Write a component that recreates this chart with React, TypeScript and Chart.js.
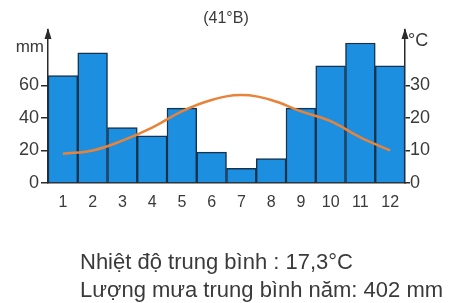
import { useEffect, useRef } from "react";
import { Chart, registerables } from "chart.js";

Chart.register(...registerables);

const months = ["1", "2", "3", "4", "5", "6", "7", "8", "9", "10", "11", "12"];
const rainfall = [66, 80, 34, 29, 46, 19, 9, 15, 46, 72, 86, 72];
const temperature = [9, 10, 13, 17, 22, 25.5, 27, 25.5, 22, 19, 14, 10];
const rainTicks = [0, 20, 40, 60];
const tempTicks = [0, 10, 20, 30];
const title = "(41°B)";
const rainUnit = "mm";
const tempUnit = "°C";
const noteLines = ["Nhiệt độ trung bình : 17,3°C", "Lượng mưa trung bình năm: 402 mm"];

const FONT = "'Liberation Sans', Arial, sans-serif";
const AXIS = "#2b2b2b";
const TEXT = "#3a3a3a";

const decorPlugin = {
  id: "decor",
  afterDraw(chart: any) {
    const { ctx, chartArea } = chart;
    const { left, right, top } = chartArea;
    ctx.save();
    // arrows on the two vertical axes
    ctx.fillStyle = AXIS;
    ctx.strokeStyle = AXIS;
    ctx.lineWidth = 1.5;
    [left, right].forEach((x: number) => {
      ctx.beginPath();
      ctx.moveTo(x, top + 2);
      ctx.lineTo(x, top);
      ctx.stroke();
      ctx.beginPath();
      ctx.moveTo(x, top - 2);
      ctx.lineTo(x - 3.5, top + 9);
      ctx.lineTo(x + 3.5, top + 9);
      ctx.closePath();
      ctx.fill();
    });
    ctx.fillStyle = TEXT;
    ctx.textBaseline = "middle";
    ctx.font = `16px ${FONT}`;
    ctx.textAlign = "center";
    ctx.fillText(title, 226, 19);
    ctx.textAlign = "right";
    ctx.font = `17px ${FONT}`;
    ctx.fillText(rainUnit, left - 4, 47);
    ctx.textAlign = "left";
    ctx.font = `18px ${FONT}`;
    ctx.fillText(tempUnit, right + 3, 41);
    ctx.textBaseline = "alphabetic";
    ctx.font = `22px ${FONT}`;
    ctx.fillText(noteLines[0], 80, 269);
    ctx.fillText(noteLines[1], 80, 297);
    ctx.restore();
  },
};

export default function App() {
  const ref = useRef<HTMLCanvasElement>(null);
  useEffect(() => {
    if (!ref.current) return;
    const chart = new Chart(ref.current, {
      type: "bar",
      data: {
        labels: months,
        datasets: [
          {
            type: "line",
            label: "Nhiệt độ",
            data: temperature,
            yAxisID: "y2",
            borderColor: "#e8833a",
            borderWidth: 2.5,
            tension: 0.4,
            pointRadius: 0,
            fill: false,
            order: 0,
          } as any,
          {
            type: "bar",
            label: "Lượng mưa",
            data: rainfall,
            yAxisID: "y",
            backgroundColor: "#1d8fe0",
            borderColor: "#17324d",
            borderWidth: 1.5,
            barPercentage: 1,
            categoryPercentage: 1,
            order: 1,
          },
        ],
      },
      options: {
        responsive: false,
        animation: false,
        layout: { padding: { top: 30, left: 0, right: 0, bottom: 0 } },
        plugins: { legend: { display: false }, tooltip: { enabled: false } },
        scales: {
          x: {
            grid: { display: false, drawTicks: false },
            border: { display: true, color: AXIS, width: 1.5 },
            ticks: { color: TEXT, font: { size: 16, family: FONT }, padding: 10, maxRotation: 0 },
            afterFit: (s: any) => {
              s.height = 120;
            },
          },
          y: {
            position: "left",
            min: 0,
            max: 94,
            afterBuildTicks: (s: any) => {
              s.ticks = rainTicks.map((v) => ({ value: v }));
            },
            afterFit: (s: any) => {
              s.width = 48;
            },
            grid: { drawOnChartArea: false, drawTicks: true, tickLength: 7, color: AXIS, lineWidth: 1.5 },
            border: { display: true, color: AXIS, width: 1.5 },
            ticks: { color: TEXT, font: { size: 18, family: FONT }, padding: 2 },
          },
          y2: {
            position: "right",
            min: 0,
            max: 47,
            afterBuildTicks: (s: any) => {
              s.ticks = tempTicks.map((v) => ({ value: v }));
            },
            afterFit: (s: any) => {
              s.width = 44;
            },
            grid: { drawOnChartArea: false, drawTicks: true, tickLength: 5, color: AXIS, lineWidth: 1.5 },
            border: { display: true, color: AXIS, width: 1.5 },
            ticks: { color: TEXT, font: { size: 18, family: FONT }, padding: 0 },
          },
        },
      },
      plugins: [decorPlugin],
    });
    return () => chart.destroy();
  }, []);
  return (
    <div style={{ position: "fixed", left: 0, top: 0, width: 449, height: 303, background: "#fff" }}>
      <canvas ref={ref} width={449} height={303} />
    </div>
  );
}
